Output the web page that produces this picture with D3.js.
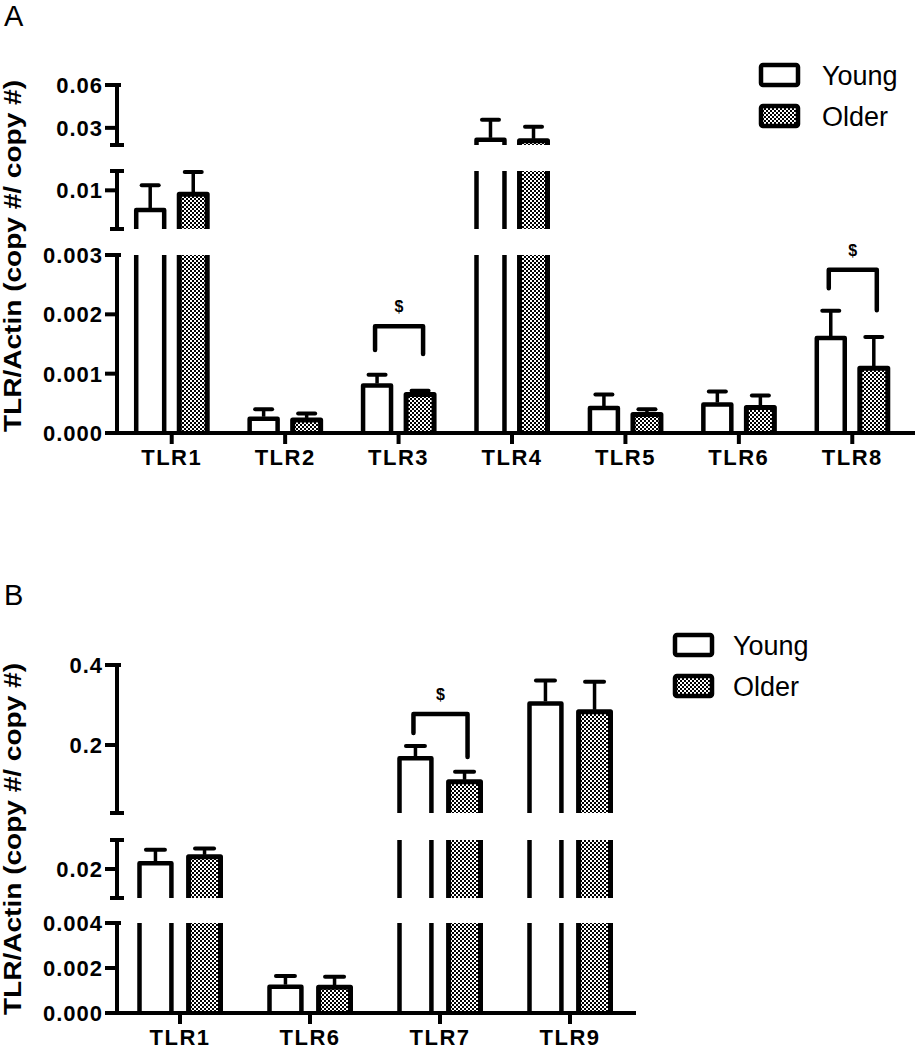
<!DOCTYPE html>
<html><head><meta charset="utf-8">
<script src="https://cdn.jsdelivr.net/npm/d3@7"></script>
<style>body{margin:0;background:#fff}svg{display:block}text{font-family:"Liberation Sans",Arial,sans-serif}</style>
</head><body>
<script>
// ---------- DATA ----------
const groups = ["Young", "Older"];

const catsA = ["TLR1", "TLR2", "TLR3", "TLR4", "TLR5", "TLR6", "TLR8"];
const youngA = [0.00695, 0.00024, 0.0008, 0.0216, 0.00042, 0.00048, 0.0016];
const youngErrA = [0.00385, 0.00016, 0.00018, 0.014, 0.00023, 0.00022, 0.00046];
const olderA = [0.0094, 0.00022, 0.00065, 0.0209, 0.00031, 0.00043, 0.00109];
const olderErrA = [0.00345, 0.00011, 0.00006, 0.0098, 0.00009, 0.0002, 0.00053];
const segDomainsA = [[0.018, 0.06], [0.004, 0.013], [0, 0.003]];
const ticksA = [[0.03, 0.06], [0.01], [0, 0.001, 0.002, 0.003]];
const sigA = [
  { cat: "TLR3", top: 0.0018, left: 0.0014, right: 0.00133, mark: "$" },
  { cat: "TLR8", top: 0.00275, left: 0.00244, right: 0.00207, mark: "$" }
];

const catsB = ["TLR1", "TLR6", "TLR7", "TLR9"];
const youngB = [0.022, 0.00117, 0.1667, 0.304];
const youngErrB = [0.0046, 0.00047, 0.0308, 0.057];
const olderB = [0.0242, 0.00114, 0.108, 0.283];
const olderErrB = [0.0029, 0.00047, 0.025, 0.075];
const segDomainsB = [[0.03, 0.4], [0.01, 0.03], [0, 0.004]];
const ticksB = [[0.2, 0.4], [0.02], [0, 0.002, 0.004]];
const sigB = [{ cat: "TLR7", top: 0.2775, left: 0.23, right: 0.17, mark: "$" }];

const yTitle = "TLR/Actin (copy #/ copy #)";

// ---------- LAYOUT ----------
const W = 918, H = 1050;
const svg = d3.select("body").append("svg").attr("width", W).attr("height", H);
const defs = svg.append("defs");
const pat = defs.append("pattern").attr("id", "checker").attr("patternUnits", "userSpaceOnUse")
  .attr("width", 4).attr("height", 4);
pat.append("rect").attr("width", 4).attr("height", 4).attr("fill", "#fff");
pat.append("rect").attr("width", 2).attr("height", 2).attr("fill", "#000");
pat.append("rect").attr("x", 2).attr("y", 2).attr("width", 2).attr("height", 2).attr("fill", "#000");

const panels = [
  {
    label: "A", labelY: 26, cats: catsA, young: youngA, youngErr: youngErrA, older: olderA, olderErr: olderErrA,
    segDomains: segDomainsA, segRanges: [[145, 85], [229, 171], [433, 255]], ticks: ticksA,
    fmts: [".2f", ".2f", ".3f"], axisX: 117, xRange: [115, 909], axisEnd: 915, inner: 35.5, capW: 17,
    legX: 761, legY: 65, legTextX: 822, titleY: 256, titleLen: 352, sig: sigA
  },
  {
    label: "B", labelY: 605, cats: catsB, young: youngB, youngErr: youngErrB, older: olderB, olderErr: olderErrB,
    segDomains: segDomainsB, segRanges: [[813, 665], [898, 840], [1013, 923]], ticks: ticksB,
    fmts: [".1f", ".2f", ".3f"], axisX: 117, xRange: [115, 635], axisEnd: 636, inner: 40.5, capW: 19,
    legX: 675, legY: 635, legTextX: 733, titleY: 839, titleLen: 352, sig: sigB
  }
];

panels.forEach(p => {
  const g = svg.append("g");
  const x0 = d3.scaleBand().domain(p.cats).range(p.xRange);
  const x1 = d3.scaleBand().domain(groups).range([-p.inner, p.inner]).paddingInner(0.35);
  const bw = x1.bandwidth();
  const segs = p.segDomains.map((d, i) => ({
    dom: d, yb: p.segRanges[i][0], yt: p.segRanges[i][1],
    y: d3.scaleLinear().domain(d).range(p.segRanges[i]),
    ticks: p.ticks[i], fmt: d3.format(p.fmts[i])
  }));
  const baseY = segs[segs.length - 1].yb;

  // panel letter
  g.append("text").attr("x", 4).attr("y", p.labelY).attr("font-size", 29).text(p.label);

  // y title
  g.append("text").attr("transform", `translate(21,${p.titleY}) rotate(-90)`)
    .attr("text-anchor", "middle").attr("font-size", 24).attr("font-weight", "bold")
    .attr("textLength", p.titleLen).attr("lengthAdjust", "spacingAndGlyphs").text(yTitle);

  // y-axis segments
  const ax = p.axisX;
  segs.forEach((s, i) => {
    const ag = g.append("g").attr("stroke", "#000").attr("stroke-width", 4).attr("fill", "none");
    ag.append("line").attr("x1", ax).attr("x2", ax).attr("y1", s.yt).attr("y2", s.yb);
    const topIsTick = s.ticks.includes(s.dom[1]);
    if (!topIsTick) ag.append("line").attr("x1", ax - 7).attr("x2", ax + 7).attr("y1", s.yt).attr("y2", s.yt);
    else ag.append("line").attr("x1", ax).attr("x2", ax + 4).attr("y1", s.yt).attr("y2", s.yt);
    if (i < segs.length - 1) ag.append("line").attr("x1", ax - 7).attr("x2", ax + 7).attr("y1", s.yb).attr("y2", s.yb);
    s.ticks.forEach(t => {
      ag.append("line").attr("x1", ax - 12).attr("x2", ax).attr("y1", s.y(t)).attr("y2", s.y(t));
      g.append("text").attr("x", ax - 14).attr("y", s.y(t)).attr("dy", "0.36em")
        .attr("text-anchor", "end").attr("font-size", 22).attr("font-weight", "bold")
        .attr("letter-spacing", 1).text(s.fmt(t));
    });
  });

  // bars
  const rows = [];
  p.cats.forEach((c, i) => {
    rows.push({ cat: c, grp: "Young", v: p.young[i], e: p.youngErr[i] });
    rows.push({ cat: c, grp: "Older", v: p.older[i], e: p.olderErr[i] });
  });
  rows.forEach(r => {
    const cx = x0(r.cat) + x0.bandwidth() / 2 + x1(r.grp) + bw / 2;
    const xl = cx - bw / 2, xr = cx + bw / 2;
    segs.forEach(s => {
      if (r.v > s.dom[0]) {
        const within = r.v <= s.dom[1];
        const yTop = s.y(Math.min(r.v, s.dom[1]));
        if (r.grp === "Older") {
          g.append("rect").attr("x", xl).attr("y", yTop).attr("width", bw).attr("height", s.yb - yTop)
            .attr("fill", "url(#checker)");
        }
        const path = within
          ? `M${xl},${s.yb}V${yTop}H${xr}V${s.yb}`
          : `M${xl},${s.yb}V${yTop}M${xr},${yTop}V${s.yb}`;
        g.append("path").attr("d", path).attr("fill", "none").attr("stroke", "#000")
          .attr("stroke-width", r.grp === "Older" ? 5 : 4.5).attr("stroke-linejoin", "round");
      }
      const lo = Math.max(r.v, s.dom[0]), hi = Math.min(r.v + r.e, s.dom[1]);
      if (hi > lo) {
        g.append("line").attr("x1", cx).attr("x2", cx).attr("y1", s.y(lo) - 2).attr("y2", s.y(hi))
          .attr("stroke", "#000").attr("stroke-width", 3.5);
        if (r.v + r.e <= s.dom[1]) {
          g.append("line").attr("x1", cx - p.capW / 2).attr("x2", cx + p.capW / 2)
            .attr("y1", s.y(hi)).attr("y2", s.y(hi)).attr("stroke", "#000").attr("stroke-width", 4)
            .attr("stroke-linecap", "round");
        }
      }
    });
  });

  // x axis
  g.append("line").attr("x1", ax - 2).attr("x2", p.axisEnd).attr("y1", baseY).attr("y2", baseY)
    .attr("stroke", "#000").attr("stroke-width", 4);
  p.cats.forEach(c => {
    const cx = x0(c) + x0.bandwidth() / 2;
    g.append("line").attr("x1", cx).attr("x2", cx).attr("y1", baseY).attr("y2", baseY + 11)
      .attr("stroke", "#000").attr("stroke-width", 4);
    g.append("text").attr("x", cx).attr("y", baseY + 32).attr("text-anchor", "middle")
      .attr("font-size", 22).attr("font-weight", "bold").attr("letter-spacing", 1.5).text(c);
  });

  // significance brackets
  p.sig.forEach(sg => {
    const s = segs.find(q => sg.top >= q.dom[0] && sg.top <= q.dom[1]);
    const cxY = x0(sg.cat) + x0.bandwidth() / 2 + x1("Young") + bw / 2 - 2;
    const cxO = x0(sg.cat) + x0.bandwidth() / 2 + x1("Older") + bw / 2 + 3;
    g.append("path").attr("d", `M${cxY},${s.y(sg.left)}V${s.y(sg.top)}H${cxO}V${s.y(sg.right)}`)
      .attr("fill", "none").attr("stroke", "#000").attr("stroke-width", 4.5)
      .attr("stroke-linejoin", "round").attr("stroke-linecap", "round");
    g.append("text").attr("x", (cxY + cxO) / 2).attr("y", s.y(sg.top) - 14).attr("text-anchor", "middle")
      .attr("font-size", 16).attr("font-weight", "bold").text(sg.mark);
  });

  // legend
  groups.forEach((gr, i) => {
    const ly = p.legY + i * 41;
    g.append("rect").attr("x", p.legX).attr("y", ly).attr("width", 37).attr("height", 20).attr("rx", 2)
      .attr("fill", gr === "Older" ? "url(#checker)" : "#fff").attr("stroke", "#000").attr("stroke-width", 4.5);
    g.append("text").attr("x", p.legTextX).attr("y", ly + 20).attr("font-size", 27).text(gr);
  });
});
</script>
</body></html>
